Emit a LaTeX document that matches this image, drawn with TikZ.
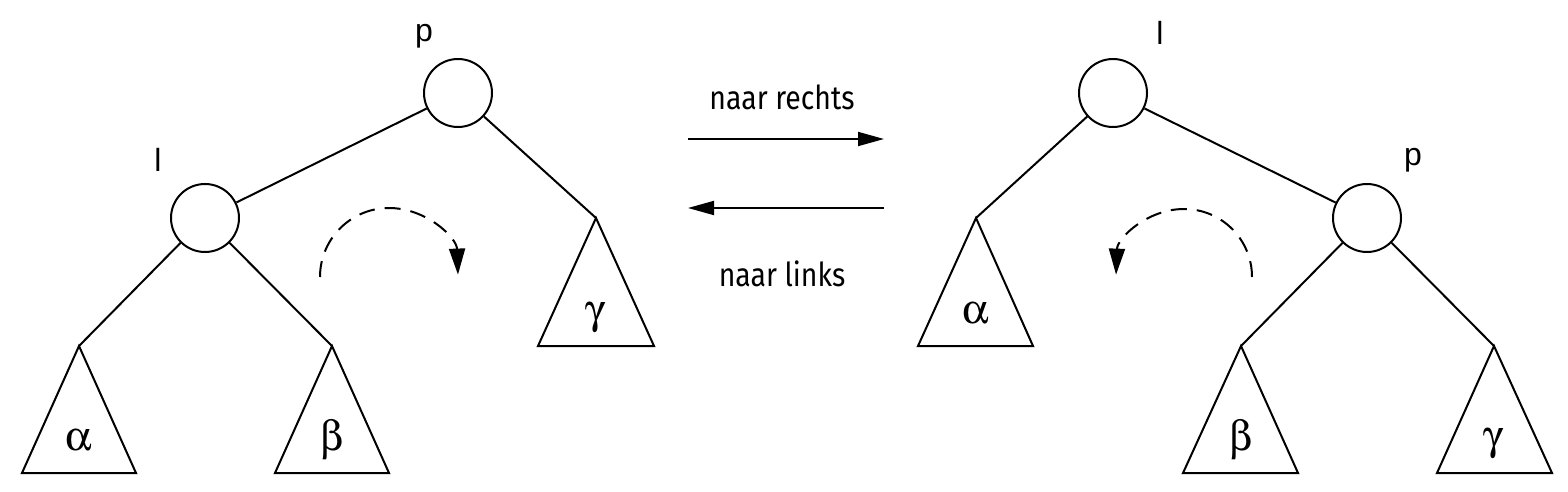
\documentclass[tikz,border=0pt]{standalone}
\usepackage{fontspec}
\usepackage[Symbol]{upgreek}
\setmainfont{Fira Sans}
\newfontfamily\capfont[FakeStretch=0.86]{Fira Sans}
\newfontfamily\lblfont{Liberation Sans}
\usetikzlibrary{arrows.meta}
\begin{document}
\begin{tikzpicture}[x=0.5pt,y=-0.5pt,
  knot/.style={circle,draw,line width=1pt,minimum size=34pt,inner sep=0pt},
  edge/.style={line width=1pt},
  subtree/.style={line width=1pt,line join=miter},
  lbl/.style={font=\lblfont\fontsize{16}{18}\selectfont},
  grk/.style={font=\fontsize{21}{24}\selectfont},
  captext/.style={font=\capfont\fontsize{16.5}{19}\selectfont},
  rot/.style={line width=1pt,dash pattern=on 8pt off 5pt,-{Triangle[length=13pt,width=8pt]}},
  swap/.style={line width=0.9pt,-{Triangle[length=13pt,width=7pt]}}]
\useasboundingbox (0,0) rectangle (1568,492);
% ---------- left tree ----------
\node[knot] (Lp) at (458,93) {};
\node[knot] (Ll) at (205,218) {};
\node[lbl] (Lplab) at (424,36) {p};
\node[lbl] (Lllab) at (158,160) {l};
\coordinate (La) at (79,346);
\coordinate (Lb) at (332,346);
\coordinate (Lg) at (596,218);
\draw[subtree] (La) -- (22,473) -- (136,473) -- cycle;
\draw[subtree] (Lb) -- (275,473) -- (389,473) -- cycle;
\draw[subtree] (Lg) -- (538,346) -- (654,346) -- cycle;
\node[grk] (Lalpha) at (79,440) {$\upalpha$};
\node[grk] (Lbeta) at (332,440) {$\upbeta$};
\node[grk] (Lgamma) at (596,318) {$\upgamma$};
\draw[edge] (Lp) -- (Ll);
\draw[edge] (Lp) -- (Lg);
\draw[edge] (Ll) -- (La);
\draw[edge] (Ll) -- (Lb);
\draw[rot] (320,277) arc[start angle=180,end angle=358,radius=69];
% ---------- arrows ----------
\coordinate (A1s) at (688,139);
\coordinate (A1e) at (884,139);
\coordinate (A2s) at (884,208);
\coordinate (A2e) at (688,208);
\draw[swap] (A1s) -- (A1e);
\draw[swap] (A2s) -- (A2e);
\node[captext] (rechts) at (782,97) {naar rechts};
\node[captext] (links) at (782,274) {naar links};
% ---------- right tree ----------
\node[knot] (Rl) at (1113,93) {};
\node[knot] (Rp) at (1367,218) {};
\node[lbl] (Rllab) at (1160,33) {l};
\node[lbl] (Rplab) at (1413,160) {p};
\coordinate (Ra) at (976,218);
\coordinate (Rb) at (1241,346);
\coordinate (Rg) at (1494,346);
\draw[subtree] (Ra) -- (918,346) -- (1033,346) -- cycle;
\draw[subtree] (Rb) -- (1183,473) -- (1298,473) -- cycle;
\draw[subtree] (Rg) -- (1437,473) -- (1552,473) -- cycle;
\node[grk] (Ralpha) at (976,313) {$\upalpha$};
\node[grk] (Rbeta) at (1241,440) {$\upbeta$};
\node[grk] (Rgamma) at (1494,444) {$\upgamma$};
\draw[edge] (Rl) -- (Rp);
\draw[edge] (Rl) -- (Ra);
\draw[edge] (Rp) -- (Rb);
\draw[edge] (Rp) -- (Rg);
\draw[rot] (1252,277) arc[start angle=0,end angle=-178,radius=68];
\end{tikzpicture}
\end{document}
